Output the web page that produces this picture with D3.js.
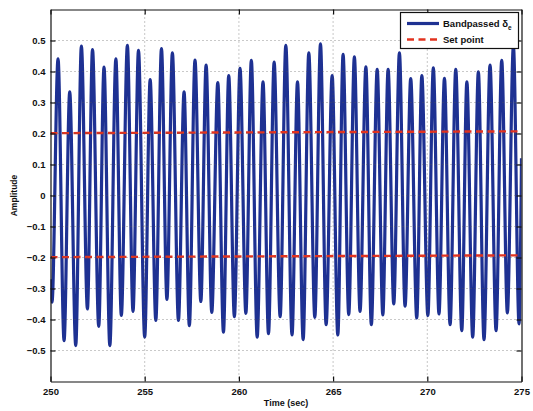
<!DOCTYPE html>
<html><head><meta charset="utf-8">
<script src="https://cdn.jsdelivr.net/npm/d3@7"></script>
<style>
html,body{margin:0;padding:0;background:#fff;}
svg{display:block;font-family:"Liberation Sans",Arial,Helvetica,sans-serif;}
</style></head>
<body>
<svg id="chart" width="533" height="411"></svg>
<script>
// ---- data ----
const peakTimes = [250.40,251.02,251.64,252.23,252.84,253.47,254.08,254.67,255.29,255.89,256.47,257.09,257.67,258.26,258.88,259.46,260.06,260.66,261.28,261.87,262.49,263.11,263.71,264.33,264.95,265.53,266.13,266.74,267.34,267.92,268.52,269.12,269.71,270.32,270.91,271.51,272.10,272.71,273.33,273.95,274.57];
const peakValues = [0.441,0.334,0.482,0.471,0.414,0.441,0.484,0.468,0.374,0.474,0.460,0.334,0.437,0.421,0.364,0.387,0.410,0.436,0.367,0.430,0.484,0.367,0.460,0.489,0.387,0.455,0.447,0.415,0.407,0.407,0.460,0.377,0.387,0.412,0.378,0.407,0.367,0.399,0.421,0.436,0.482];
const troughTimes = [250.08,250.72,251.34,251.96,252.56,253.15,253.76,254.38,255.00,255.59,256.18,256.79,257.37,257.98,258.56,259.18,259.76,260.37,260.97,261.57,262.19,262.82,263.41,264.03,264.63,265.25,265.83,266.43,267.03,267.64,268.22,268.82,269.44,270.03,270.62,271.21,271.83,272.41,273.01,273.65,274.25,274.87];
const troughValues = [-0.344,-0.468,-0.484,-0.366,-0.422,-0.484,-0.387,-0.374,-0.457,-0.403,-0.335,-0.403,-0.420,-0.342,-0.377,-0.441,-0.391,-0.380,-0.457,-0.446,-0.391,-0.450,-0.465,-0.393,-0.417,-0.450,-0.384,-0.374,-0.417,-0.385,-0.350,-0.357,-0.395,-0.387,-0.382,-0.417,-0.436,-0.457,-0.465,-0.436,-0.379,-0.414];
const edgeTimes = [250, 275];
const edgeValues = [-0.27, 0.12];
const setTimes = [250, 275];
const setUpper = [0.201, 0.207];
const setLower = [-0.199, -0.193];
const xTicks = [250,255,260,265,270,275];
const yTicks = [-0.5,-0.4,-0.3,-0.2,-0.1,0,0.1,0.2,0.3,0.4,0.5];
const xDomain = [250, 275];
const yDomain = [-0.6, 0.6];
const legendLabels = ["Bandpassed δ", "Set point"];

// ---- layout ----
const L = 50.5, R = 521.5, T = 9.5, B = 381.5;
const svg = d3.select("#chart");
const x = d3.scaleLinear().domain(xDomain).range([L, R]);
const y = d3.scaleLinear().domain(yDomain).range([B, T]);

// signal points
const pts = [];
edgeTimes.forEach((t,i)=>pts.push([t, edgeValues[i]]));
peakTimes.forEach((t,i)=>pts.push([t, peakValues[i]]));
troughTimes.forEach((t,i)=>pts.push([t, troughValues[i]]));
pts.sort((a,b)=>a[0]-b[0]);

svg.append("defs").append("clipPath").attr("id","clip")
  .append("rect").attr("x",L).attr("y",T).attr("width",R-L).attr("height",B-T);

const line = d3.line().x(d=>x(d[0])).y(d=>y(d[1])).curve(d3.curveMonotoneX);

const plot = svg.append("g").attr("clip-path","url(#clip)");
plot.append("path").datum(pts).attr("d",line)
  .attr("fill","none").attr("stroke","#1e3192").attr("stroke-width",3.2)
  .attr("stroke-linejoin","round");

// grid (drawn over data like the reference)
const grid = svg.append("g").attr("stroke","#555").attr("stroke-width",0.8)
  .attr("stroke-dasharray","1,3").attr("opacity",0.8);
xTicks.slice(1,-1).forEach(t=>grid.append("line").attr("x1",x(t)).attr("x2",x(t)).attr("y1",T).attr("y2",B));
yTicks.forEach(t=>grid.append("line").attr("x1",L).attr("x2",R).attr("y1",y(t)).attr("y2",y(t)));

// set point lines
const setLine = d3.line().x(d=>x(d[0])).y(d=>y(d[1]));
[setUpper, setLower].forEach(arr=>{
  plot.append("path").datum(setTimes.map((t,i)=>[t,arr[i]])).attr("d",setLine)
    .attr("fill","none").attr("stroke","#e2331f").attr("stroke-width",2.4)
    .attr("stroke-dasharray","7,4.5");
});

// axes (MATLAB box style, inward ticks)
const fmtY = v => (v<0 ? "\u2212"+d3.format(".1f")(-v) : (v===0 ? "0" : d3.format(".1f")(v)));
const axB = d3.axisBottom(x).tickValues(xTicks).tickSizeInner(-5).tickSizeOuter(0).tickPadding(7).tickFormat(d3.format("d"));
const axT = d3.axisTop(x).tickValues(xTicks).tickSizeInner(-5).tickSizeOuter(0).tickFormat("");
const axLf = d3.axisLeft(y).tickValues(yTicks).tickSizeInner(-5).tickSizeOuter(0).tickPadding(5).tickFormat(fmtY);
const axRt = d3.axisRight(y).tickValues(yTicks).tickSizeInner(-5).tickSizeOuter(0).tickFormat("");
function styleAxis(g){
  g.selectAll("path").attr("stroke","#111").attr("stroke-width",1.2);
  g.selectAll("line").attr("stroke","#111").attr("stroke-width",1.2);
  g.selectAll("text").attr("fill","#111").style("font-size","9.5px").style("font-weight","bold");
}
svg.append("g").attr("transform",`translate(0,${B})`).call(axB).call(styleAxis);
svg.append("g").attr("transform",`translate(0,${T})`).call(axT).call(styleAxis);
svg.append("g").attr("transform",`translate(${L},0)`).call(axLf).call(styleAxis);
svg.append("g").attr("transform",`translate(${R},0)`).call(axRt).call(styleAxis);

// axis labels
svg.append("text").attr("x",(L+R)/2).attr("y",406).attr("text-anchor","middle")
  .style("font-size","9px").style("font-weight","bold").attr("fill","#111").text("Time (sec)");
svg.append("text").attr("transform",`translate(17,${(T+B)/2}) rotate(-90)`).attr("text-anchor","middle")
  .style("font-size","8.5px").style("font-weight","bold").attr("fill","#111").text("Amplitude");

// legend
const lg = svg.append("g");
lg.append("rect").attr("x",400.5).attr("y",12.5).attr("width",118).attr("height",36)
  .attr("fill","#fff").attr("stroke","#111").attr("stroke-width",1.2);
lg.append("line").attr("x1",407).attr("x2",439).attr("y1",23.5).attr("y2",23.5)
  .attr("stroke","#1e3192").attr("stroke-width",3.2);
lg.append("line").attr("x1",407).attr("x2",439).attr("y1",39.5).attr("y2",39.5)
  .attr("stroke","#e2331f").attr("stroke-width",2.4).attr("stroke-dasharray","7,4.5");
const t1 = lg.append("text").attr("x",443).attr("y",27).style("font-size","9.5px").style("font-weight","bold").attr("fill","#111");
t1.append("tspan").text(legendLabels[0]);
t1.append("tspan").attr("dy",3).style("font-size","6.5px").text("e");
lg.append("text").attr("x",443).attr("y",43).style("font-size","9.5px").style("font-weight","bold").attr("fill","#111").text(legendLabels[1]);
</script>
</body></html>
